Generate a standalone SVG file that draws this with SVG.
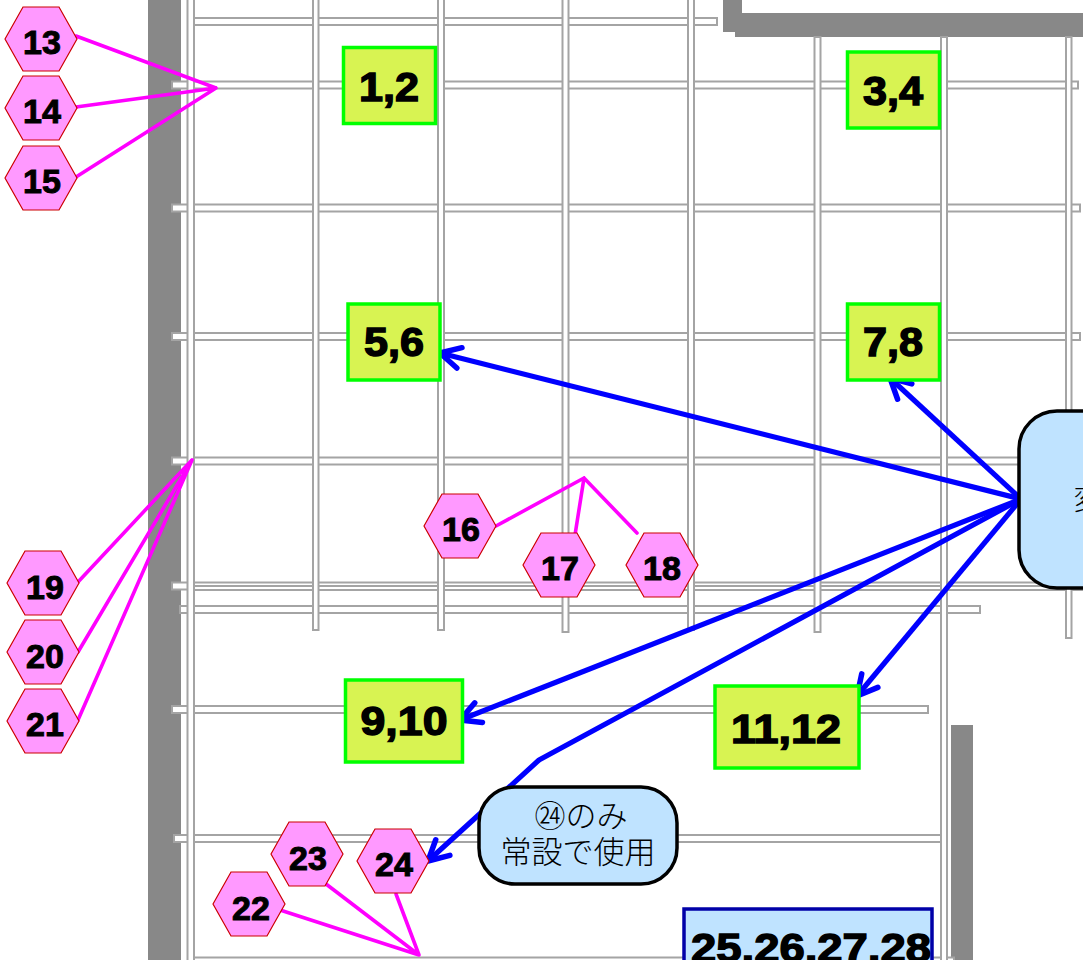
<svg xmlns="http://www.w3.org/2000/svg" width="1083" height="960" viewBox="0 0 1083 960">
<style>
.wall{fill:#888888}
.pipe{fill:#fff;stroke:#a4a4a4;stroke-width:2}
.hex{fill:#FF99FF;stroke:#CC0000;stroke-width:1.2}
.box{fill:#D8F352;stroke:#00FF00;stroke-width:3.5}
.note{fill:#BFE3FF;stroke:#000;stroke-width:3.5}
.num{font-family:"Liberation Sans",Arial,sans-serif;font-weight:700;fill:#000;stroke:#000;text-anchor:middle}
.n1{font-size:34px;stroke-width:1}
.n2{font-size:40px;stroke-width:1.4}
.jp{font-family:"Noto Sans CJK JP",sans-serif;font-size:31px;fill:#000;text-anchor:middle;font-weight:300}
.mag{fill:none;stroke:#FF00FF;stroke-width:3.6;stroke-linecap:round;stroke-linejoin:round}
.blue{fill:none;stroke:#0000FF;stroke-width:5.200;stroke-linejoin:round;marker-end:url(#arr)}
</style>
<defs>
<marker id="arr" viewBox="-24 -15 28 30" refX="0" refY="0" markerWidth="28" markerHeight="30" markerUnits="userSpaceOnUse" orient="auto">
<path d="M-20,-10.500 L0,0 L-20,10.500" fill="none" stroke="#0000FF" stroke-width="5.500" stroke-linecap="round" stroke-linejoin="round"/>
</marker>
<polygon id="h" points="-36,0 -18,-32 18,-32 36,0 18,32 -18,32"/>
</defs>
<g id="plan">
<rect class="wall" x="148" y="0" width="33" height="960"/>
<path class="wall" d="M723,0H742V13H1083V37H735V32H723Z"/>
<rect class="wall" x="951" y="725" width="22" height="235"/>
<rect class="pipe" x="194" y="18" width="523" height="7"/>
<rect class="pipe" x="172" y="81.500" width="906" height="7"/>
<rect class="pipe" x="172" y="204.500" width="908" height="7"/>
<rect class="pipe" x="172" y="333" width="908" height="7"/>
<rect class="pipe" x="172" y="457.500" width="920" height="7"/>
<rect class="pipe" x="172" y="582.500" width="920" height="7"/>
<rect class="pipe" x="194" y="586" width="898" height="4"/>
<rect class="pipe" x="180" y="606" width="800" height="7"/>
<rect class="pipe" x="172" y="706" width="756" height="7"/>
<rect class="pipe" x="174" y="835" width="767" height="7"/>
<rect class="pipe" x="194" y="957.500" width="760" height="7"/>
<rect class="pipe" x="187.500" y="-5" width="6.500" height="970"/>
<rect class="pipe" x="313" y="-5" width="5.500" height="635"/>
<rect class="pipe" x="438" y="-5" width="6" height="635"/>
<rect class="pipe" x="562.500" y="-5" width="6" height="637"/>
<rect class="pipe" x="688" y="-5" width="6" height="635"/>
<rect class="pipe" x="814.500" y="37" width="6" height="595"/>
<rect class="pipe" x="941" y="37" width="6" height="930"/>
<rect class="pipe" x="1066" y="37" width="5.500" height="601"/>
</g>
<g id="connectors">
<path class="mag" d="M76,36L216,88L76,107M76,177L216,88"/>
<path class="mag" d="M78,582L192,460L78,652M78,720L192,460"/>
<path class="mag" d="M496,526L584,478L575,535M584,478L637,533"/>
<path class="mag" d="M280,910L419,955L326,884M419,955L396,894"/>
<path class="blue" d="M1021,499L440,353"/>
<path class="blue" d="M1021,499L890,378"/>
<path class="blue" d="M1021,499L460,720"/>
<path class="blue" d="M1021,499L857,696"/>
<path class="blue" d="M1021,499L539,760L428,861"/>
</g>
<g id="n1-2"><rect class="box" x="343.500" y="47.500" width="92" height="76"/><text class="num n2" x="389" y="101" textLength="60" lengthAdjust="spacingAndGlyphs">1,2</text></g>
<g id="n3-4"><rect class="box" x="847.500" y="52" width="92" height="76"/><text class="num n2" x="893" y="105" textLength="60" lengthAdjust="spacingAndGlyphs">3,4</text></g>
<g id="n5-6"><rect class="box" x="348" y="304" width="92" height="76"/><text class="num n2" x="394" y="356" textLength="60" lengthAdjust="spacingAndGlyphs">5,6</text></g>
<g id="n7-8"><rect class="box" x="847.500" y="304" width="92" height="76"/><text class="num n2" x="893" y="356" textLength="60" lengthAdjust="spacingAndGlyphs">7,8</text></g>
<g id="n9-10"><rect class="box" x="345.500" y="680" width="117" height="82"/><text class="num n2" x="404" y="735" textLength="87" lengthAdjust="spacingAndGlyphs">9,10</text></g>
<g id="n11-12"><rect class="box" x="715" y="686" width="144" height="82"/><text class="num n2" x="786" y="743" textLength="110" lengthAdjust="spacingAndGlyphs">11,12</text></g>
<g id="n25-28"><rect x="684" y="909" width="248" height="60" fill="#BFE3FF" stroke="#0000A8" stroke-width="3.5"/><text class="num n2" x="811" y="962" textLength="240" lengthAdjust="spacingAndGlyphs">25,26,27,28</text></g>
<g id="n13"><use href="#h" class="hex" x="41" y="39"/><text class="num n1" x="42" y="54">13</text></g>
<g id="n14"><use href="#h" class="hex" x="41" y="108"/><text class="num n1" x="42" y="123">14</text></g>
<g id="n15"><use href="#h" class="hex" x="41" y="178"/><text class="num n1" x="42" y="193">15</text></g>
<g id="n16"><use href="#h" class="hex" x="460" y="526"/><text class="num n1" x="461" y="541">16</text></g>
<g id="n17"><use href="#h" class="hex" x="559" y="565"/><text class="num n1" x="560" y="580">17</text></g>
<g id="n18"><use href="#h" class="hex" x="662" y="565"/><text class="num n1" x="662" y="580">18</text></g>
<g id="n19"><use href="#h" class="hex" x="43" y="583"/><text class="num n1" x="45" y="599">19</text></g>
<g id="n20"><use href="#h" class="hex" x="43" y="652"/><text class="num n1" x="45" y="668">20</text></g>
<g id="n21"><use href="#h" class="hex" x="43" y="721"/><text class="num n1" x="45" y="736">21</text></g>
<g id="n22"><use href="#h" class="hex" x="249" y="904"/><text class="num n1" x="251" y="920">22</text></g>
<g id="n23"><use href="#h" class="hex" x="307" y="854"/><text class="num n1" x="308" y="870">23</text></g>
<g id="n24"><use href="#h" class="hex" x="393" y="861"/><text class="num n1" x="394" y="876">24</text></g>
<g id="note24"><rect class="note" x="479" y="787" width="198" height="97" rx="36"/><text class="jp" x="581" y="827">㉔のみ</text><text class="jp" x="578" y="863">常設で使用</text></g>
<g id="noteR"><rect class="note" x="1019" y="411" width="120" height="177" rx="38"/><text class="jp" x="1088" y="510" style="font-size:29px">変</text></g>
</svg>
